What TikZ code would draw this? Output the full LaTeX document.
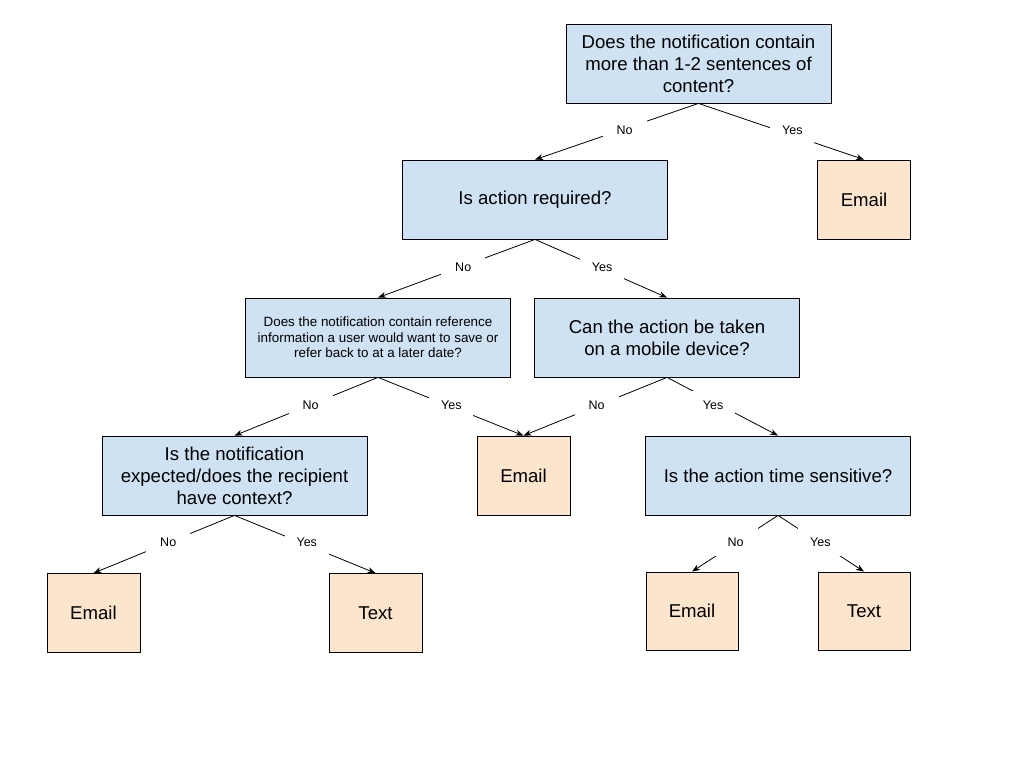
\documentclass[tikz,border=0pt]{standalone}
\usepackage{fontspec}
\setmainfont{Liberation Sans}
\usetikzlibrary{arrows.meta}
\definecolor{qblue}{HTML}{CFE2F3}
\definecolor{aorange}{HTML}{FCE5CD}
\tikzset{
  qbox/.style={draw=black, line width=0.8pt, fill=qblue, minimum width=265pt, minimum height=79pt, inner sep=0pt, align=center, font=\fontsize{18.6}{22}\selectfont},
  qsmall/.style={qbox, font=\fontsize{13.4}{15.5}\selectfont},
  abox/.style={draw=black, line width=0.8pt, fill=aorange, minimum width=93pt, minimum height=79pt, inner sep=0pt, align=center, font=\fontsize{18.6}{22}\selectfont},
  arr/.style={line width=0.8pt, -{Stealth[length=8pt,width=6pt]}},
  lbl/.style={fill=white, minimum width=44pt, minimum height=28pt, inner sep=0pt, text height=8.5pt, text depth=0pt, pos=0.47, font=\fontsize{12.5}{13}\selectfont}
}
\begin{document}
\begin{tikzpicture}[x=1pt,y=-1pt]
\useasboundingbox (0,0) rectangle (1024,768);
\node[qbox] (q1) at (698.5,63.5) {Does the notification contain\\more than 1-2 sentences of\\content?};
\node[qbox] (q2) at (535,199.5) {Is action required?};
\node[abox] (e1) at (864,199.5) {Email};
\node[qsmall] (q3) at (378,337.5) {Does the notification contain reference\\information a user would want to save or\\refer back to at a later date?};
\node[qbox] (q4) at (667,337.5) {Can the action be taken\\on a mobile device?};
\node[qbox] (q5) at (234.5,475.5) {Is the notification\\expected/does the recipient\\have context?};
\node[abox] (e2) at (523.5,475.5) {Email};
\node[qbox] (q6) at (778,475.5) {Is the action time sensitive?};
\node[abox] (e3) at (93.5,613) {Email};
\node[abox] (t1) at (375.5,613) {Text};
\node[abox, minimum width=92pt, minimum height=78pt] (e4) at (692,611) {Email};
\node[abox, minimum width=92pt, minimum height=78pt] (t2) at (864,611) {Text};

\draw[arr] (q1.south) -- node[lbl,xshift=3pt]{No} (q2.north);
\draw[arr] (q1.south) -- node[lbl,xshift=16pt]{Yes} (e1.north);
\draw[arr] (q2.south) -- node[lbl,xshift=2pt]{No} (q3.north);
\draw[arr] (q2.south) -- node[lbl,xshift=5pt]{Yes} (q4.north);
\draw[arr] (q3.south) -- node[lbl]{No} (q5.north);
\draw[arr] (q3.south) -- node[lbl,xshift=5pt]{Yes} (e2.north);
\draw[arr] (q4.south) -- node[lbl,xshift=-3pt]{No} (e2.north);
\draw[arr] (q4.south) -- node[lbl,xshift=-6pt]{Yes} (q6.north);
\draw[arr] (q5.south) -- node[lbl]{No} (e3.north);
\draw[arr] (q5.south) -- node[lbl,xshift=6pt]{Yes} (t1.north);
\draw[arr] (q6.south) -- node[lbl,xshift=-2pt]{No} (e4.north);
\draw[arr] (q6.south) -- node[lbl,xshift=2pt]{Yes} (t2.north);
\end{tikzpicture}
\end{document}
